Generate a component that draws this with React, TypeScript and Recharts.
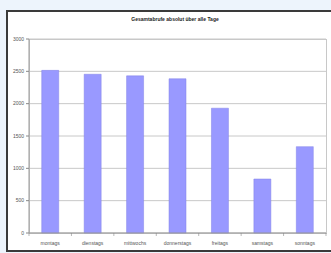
import { BarChart, Bar, XAxis, YAxis, CartesianGrid } from 'recharts';

const days = ['montags', 'dienstags', 'mittwochs', 'donnerstags', 'freitags', 'samstags', 'sonntags'];
const calls = [2515, 2455, 2430, 2385, 1930, 835, 1335];
const yTicks = [0, 500, 1000, 1500, 2000, 2500, 3000];

const data = days.map((day, i) => ({ day, calls: calls[i] }));

const DayTick = (props: any) => {
  const { x, y, payload, index } = props;
  const off = payload.offset || 0;
  return (
    <g>
      <line x1={x - off} x2={x - off} y1={y - 8} y2={y - 5} stroke="#888" strokeWidth={0.6} />
      {index === days.length - 1 && (
        <line x1={x + off} x2={x + off} y1={y - 8} y2={y - 5} stroke="#888" strokeWidth={0.6} />
      )}
      <text x={x} y={y + 4} textAnchor="middle" fontSize={5} fill="#555">
        {payload.value}
      </text>
    </g>
  );
};

const App = () => {
  return (
    <div style={{ position: 'absolute', left: 0, top: 0, width: 331, height: 253, background: '#edf4fc', overflow: 'hidden', fontFamily: '"Liberation Sans", Arial, sans-serif' }}>
      <div style={{ position: 'absolute', left: 6, top: 10, width: 330, height: 238, background: '#fff', borderLeft: '2px solid #3a3a3a', borderTop: '2px solid #3a3a3a', borderBottom: '2px solid #3a3a3a' }} />
      <div style={{ position: 'absolute', left: 29, top: 39, width: 296, height: 193, border: '1px solid #c8c8c8' }} />
      <div style={{ position: 'absolute', left: 0, top: 16, width: 350, textAlign: 'center', fontSize: 5, fontWeight: 'bold', color: '#222' }}>
        Gesamtabrufe absolut über alle Tage
      </div>
      <div style={{ position: 'absolute', left: 0, top: 0 }}>
        <BarChart width={331} height={253} data={data} margin={{ top: 39, right: 5, bottom: 0, left: 7 }} barCategoryGap="30%">
          <CartesianGrid vertical={false} stroke="#c8c8c8" strokeWidth={1} />
          <XAxis
            dataKey="day"
            height={20}
            tickLine={false}
            axisLine={{ stroke: '#999' }}
            tick={<DayTick />}
            interval={0}
          />
          <YAxis
            width={22}
            domain={[0, 3000]}
            ticks={yTicks}
            tickSize={3}
            tickLine={{ stroke: '#888' }}
            axisLine={{ stroke: '#999' }}
            tick={{ fontSize: 5, fill: '#555' }}
            interval={0}
          />
          <Bar dataKey="calls" fill="#9999ff" stroke="#8080e6" strokeWidth={0.5} isAnimationActive={false} />
        </BarChart>
      </div>
    </div>
  );
};

export default App;
